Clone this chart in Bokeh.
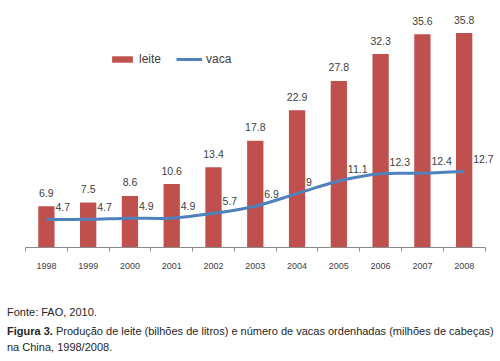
import numpy as np
from bokeh.plotting import figure
from bokeh.layouts import column
from bokeh.models import (Range1d, FixedTicker, ColumnDataSource, Legend, LegendItem, Div)
from bokeh.embed import file_html
from bokeh.resources import INLINE

years = ["1998", "1999", "2000", "2001", "2002", "2003", "2004", "2005", "2006", "2007", "2008"]
leite = [6.9, 7.5, 8.6, 10.6, 13.4, 17.8, 22.9, 27.8, 32.3, 35.6, 35.8]
vaca = [4.7, 4.7, 4.9, 4.9, 5.7, 6.9, 9, 11.1, 12.3, 12.4, 12.7]
caption_source = "Fonte: FAO, 2010."
caption_bold = "Figura 3."
caption_rest = "Produção de leite (bilhões de litros) e número de vacas ordenhadas (milhões de cabeças)"
caption_line3 = "na China, 1998/2008."

RED = "#C0504D"
BLUE = "#4F81BD"
TXT = "#404040"
FONT = "Liberation Sans"

idx = list(range(len(years)))
fmt = lambda v: ("%g" % v)

p = figure(width=500, height=280, output_backend="svg", toolbar_location=None,
           x_range=Range1d(-0.5, len(years) - 0.25), y_range=Range1d(0, 38.73),
           min_border_left=25, min_border_right=5, min_border_top=15, min_border_bottom=33,
           margin=0)
p.outline_line_color = None
p.xgrid.visible = False
p.ygrid.visible = False
p.yaxis.visible = False
p.background_fill_color = "white"
p.border_fill_color = "white"

src = ColumnDataSource(dict(x=idx, leite=leite, vaca=vaca,
                            ll=[fmt(v) for v in leite], vl=[fmt(v) for v in vaca]))

bars = p.vbar(x="x", top="leite", width=0.39, bottom=0, source=src,
              fill_color=RED, line_color=None)

# smooth line through vaca values (Catmull-Rom -> Bezier control points)
xs = np.array(idx, dtype=float)
ys = np.array(vaca, dtype=float)
xp = np.concatenate([[xs[0]], xs, [xs[-1]]])
yp = np.concatenate([[ys[0]], ys, [ys[-1]]])
n = len(xs)
x0 = xs[:-1]; y0 = ys[:-1]; x1 = xs[1:]; y1 = ys[1:]
cx0 = xp[1:n] + (xp[2:n + 1] - xp[0:n - 1]) / 6.0
cy0 = yp[1:n] + (yp[2:n + 1] - yp[0:n - 1]) / 6.0
cx1 = xp[2:n + 1] - (xp[3:n + 2] - xp[1:n]) / 6.0
cy1 = yp[2:n + 1] - (yp[3:n + 2] - yp[1:n]) / 6.0
curve = p.bezier(x0=x0, y0=y0, x1=x1, y1=y1, cx0=cx0, cy0=cy0, cx1=cx1, cy1=cy1,
                 line_color=BLUE, line_width=3)

p.text(x="x", y="leite", text="ll", source=src, text_align="center", text_baseline="middle",
       y_offset=-13.5, text_font_size="10.5px", text_color=TXT, text_font={"value": FONT})
p.text(x="x", y="vaca", text="vl", source=src, text_align="left", text_baseline="middle",
       x_offset=9, y_offset=-12, text_font_size="10.5px", text_color=TXT, text_font={"value": FONT})

ax = p.xaxis[0]
ax.bounds = (-0.5, len(years) - 0.5)
ax.ticker = FixedTicker(ticks=idx, minor_ticks=[i - 0.5 for i in range(len(years) + 1)])
ax.major_label_overrides = {i: y for i, y in enumerate(years)}
ax.major_tick_in = 0
ax.major_tick_out = 0
ax.minor_tick_in = 0
ax.minor_tick_out = 4
ax.minor_tick_line_color = "#8A8A8A"
ax.axis_line_color = "#8A8A8A"
ax.major_label_text_font_size = "9px"
ax.major_label_text_color = TXT
ax.major_label_text_font = FONT
ax.major_label_standoff = 11

legend = Legend(items=[LegendItem(label="leite", renderers=[bars]),
                       LegendItem(label="vaca", renderers=[curve])],
                orientation="horizontal", location=(84, 181),
                glyph_width=26, glyph_height=8, label_standoff=4, spacing=15,
                padding=0, margin=0, border_line_color=None, background_fill_alpha=0,
                label_text_font_size="12px", label_text_color=TXT, label_text_font=FONT)
p.add_layout(legend, "center")

line_css = "position:absolute;left:7px;white-space:nowrap;line-height:13px;"
html = (
    f'<div style="position:relative;width:500px;height:81px;font-family:\'{FONT}\';'
    f'font-size:11px;color:#262626;">'
    f'<div style="{line_css}top:26px;">{caption_source}</div>'
    f'<div style="{line_css}top:45px;"><b>{caption_bold}</b> {caption_rest}</div>'
    f'<div style="{line_css}top:61px;">{caption_line3}</div>'
    '</div>'
)
cap = Div(text=html, width=500, height=81, margin=0)

open("out.html", "w").write(file_html(column(p, cap, spacing=0, margin=0), INLINE))
